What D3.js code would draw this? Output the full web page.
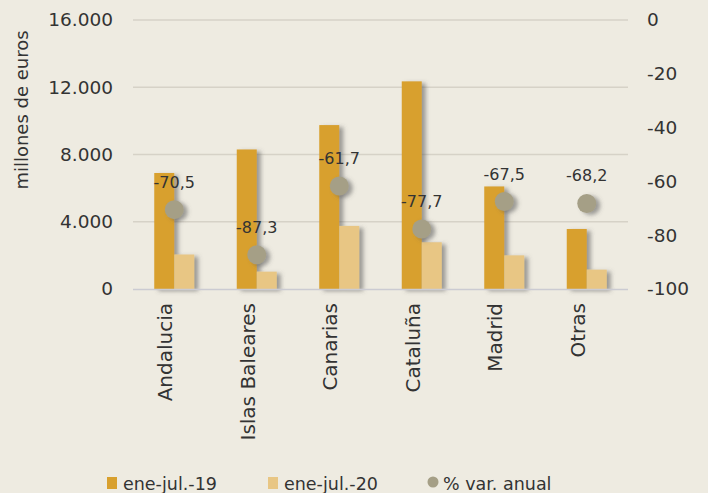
<!DOCTYPE html>
<html><head><meta charset="utf-8">
<script src="https://cdn.jsdelivr.net/npm/d3@7"></script>
<style>
html,body{margin:0;padding:0;background:#EEEBE1;}
svg{display:block;font-family:"DejaVu Sans",sans-serif;}
</style></head>
<body>
<svg id="chart" width="708" height="493"></svg>
<script>
const categories = ["Andalucia","Islas Baleares","Canarias","Cataluña","Madrid","Otras"];
const series19 = [6900, 8300, 9750, 12350, 6100, 3570];
const series20 = [2050, 1030, 3750, 2780, 2000, 1150];
const varAnual = [-70.5, -87.3, -61.7, -77.7, -67.5, -68.2];
const leftTicks = [0, 4000, 8000, 12000, 16000];
const rightTicks = [0, -20, -40, -60, -80, -100];
const legendLabels = ["ene-jul.-19", "ene-jul.-20", "% var. anual"];

const colors = {c19:"#D8A02E", c20:"#E8C684", dot:"#A59F86", grid:"#D6D2C7", text:"#333333"};
const svg = d3.select("#chart");
const m = {left:133, right:628, top:20, bottom:289};

const defs = svg.append("defs");
const f = defs.append("filter").attr("id","sh").attr("x","-20%").attr("y","-20%").attr("width","160%").attr("height","140%");
f.append("feDropShadow").attr("dx",4).attr("dy",2).attr("stdDeviation",2).attr("flood-color","#555").attr("flood-opacity",0.55);

const x = d3.scaleBand().domain(categories).range([m.left, m.right]).paddingInner(0).paddingOuter(0);
const yL = d3.scaleLinear().domain([0,16000]).range([m.bottom, m.top]);
const yR = d3.scaleLinear().domain([-100,0]).range([m.bottom, m.top]);
const fmt = d3.formatLocale({decimal:",", thousands:".", grouping:[3], currency:["","€"], minus:"-"});
const fmtL = fmt.format(",.0f");
const fmtP = fmt.format(".1f");

// gridlines
svg.append("g").selectAll("line").data(leftTicks.filter(d=>d>0)).join("line")
  .attr("x1",m.left).attr("x2",m.right).attr("y1",d=>yL(d)).attr("y2",d=>yL(d))
  .attr("stroke",colors.grid).attr("stroke-width",1.5);

// left axis
const gL = svg.append("g").attr("transform",`translate(${m.left},0)`)
  .call(d3.axisLeft(yL).tickValues(leftTicks).tickFormat(fmtL).tickSize(0).tickPadding(20));
gL.select(".domain").remove();
gL.selectAll("text").attr("font-size",18.5).attr("fill",colors.text).attr("font-family","DejaVu Sans,sans-serif");

// right axis
const gR = svg.append("g").attr("transform",`translate(${m.right},0)`)
  .call(d3.axisRight(yR).tickValues(rightTicks).tickFormat(d=>String(d)).tickSize(0).tickPadding(19));
gR.select(".domain").remove();
gR.selectAll("text").attr("font-size",18.5).attr("fill",colors.text).attr("font-family","DejaVu Sans,sans-serif");

// y title
svg.append("text").attr("transform","translate(28,110) rotate(-90)").attr("text-anchor","middle")
  .attr("font-size",18).attr("fill",colors.text).text("millones de euros");

const bw = 20;
const cx = d => x(d) + x.bandwidth()/2;
// bars
const gb = svg.append("g").attr("filter","url(#sh)");
gb.selectAll("rect.b19").data(categories).join("rect").attr("class","b19")
  .attr("x",d=>cx(d)-bw).attr("width",bw)
  .attr("y",(d,i)=>yL(series19[i])).attr("height",(d,i)=>yL(0)-yL(series19[i]))
  .attr("fill",colors.c19);
gb.selectAll("rect.b20").data(categories).join("rect").attr("class","b20")
  .attr("x",d=>cx(d)).attr("width",bw)
  .attr("y",(d,i)=>yL(series20[i])).attr("height",(d,i)=>yL(0)-yL(series20[i]))
  .attr("fill",colors.c20);

// baseline
svg.append("line").attr("x1",m.left).attr("x2",m.right).attr("y1",m.bottom+0.5).attr("y2",m.bottom+0.5)
  .attr("stroke","#CBCBD2").attr("stroke-width",1.5);

// dots
svg.append("g").attr("filter","url(#sh)").selectAll("circle").data(categories).join("circle")
  .attr("cx",cx).attr("cy",(d,i)=>yR(varAnual[i])).attr("r",9.5).attr("fill",colors.dot);

// dot labels
svg.append("g").selectAll("text").data(categories).join("text")
  .attr("x",cx).attr("y",(d,i)=>yR(varAnual[i])-22).attr("text-anchor","middle")
  .attr("font-size",16).attr("fill",colors.text).text((d,i)=>fmtP(varAnual[i]));

// category labels
svg.append("g").selectAll("text").data(categories).join("text")
  .attr("transform",d=>`translate(${cx(d)-2},303) rotate(-90)`).attr("text-anchor","end")
  .attr("font-size",20).attr("fill",colors.text).text(d=>d);

// legend
const leg = [
  {type:"rect", color:colors.c19, x:107, label:legendLabels[0]},
  {type:"rect", color:colors.c20, x:268, label:legendLabels[1]},
  {type:"circle", color:colors.dot, x:428, label:legendLabels[2]}
];
const gLeg = svg.append("g");
leg.forEach(l=>{
  if(l.type==="rect") gLeg.append("rect").attr("x",l.x).attr("y",477).attr("width",10).attr("height",12).attr("fill",l.color);
  else gLeg.append("circle").attr("cx",l.x+5).attr("cy",482).attr("r",5.5).attr("fill",l.color);
  gLeg.append("text").attr("x",l.x+(l.type==="rect"?16:15)).attr("y",490).attr("font-size",17.5).attr("fill",colors.text).text(l.label);
});
</script>
</body></html>
